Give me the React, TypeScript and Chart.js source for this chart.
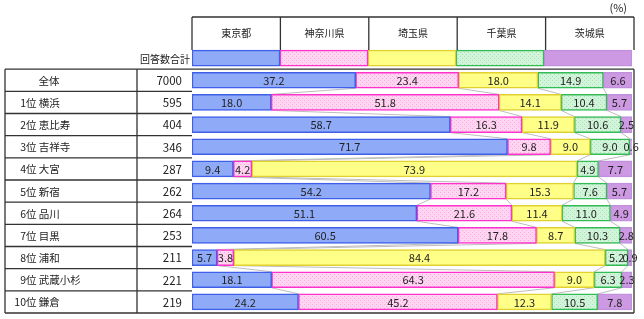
import React, { useEffect, useRef } from "react";
import { Chart, registerables } from "chart.js";

Chart.register(...registerables);

const prefectures = ["東京都", "神奈川県", "埼玉県", "千葉県", "茨城県"];
const rowLabels = ["全体", "1位 横浜", "2位 恵比寿", "3位 吉祥寺", "4位 大宮", "5位 新宿", "6位 品川", "7位 目黒", "8位 浦和", "9位 武蔵小杉", "10位 鎌倉"];
const counts = [7000, 595, 404, 346, 287, 262, 264, 253, 211, 221, 219];
const legendRow = [20, 20, 20, 20, 20];
const tokyo = [37.2, 18.0, 58.7, 71.7, 9.4, 54.2, 51.1, 60.5, 5.7, 18.1, 24.2];
const kanagawa = [23.4, 51.8, 16.3, 9.8, 4.2, 17.2, 21.6, 17.8, 3.8, 64.3, 45.2];
const saitama = [18.0, 14.1, 11.9, 9.0, 73.9, 15.3, 11.4, 8.7, 84.4, 9.0, 12.3];
const chiba = [14.9, 10.4, 10.6, 9.0, 4.9, 7.6, 11.0, 10.3, 5.2, 6.3, 10.5];
const ibaraki = [6.6, 5.7, 2.5, 0.6, 7.7, 5.7, 4.9, 2.8, 0.9, 2.3, 7.8];
const unitLabel = "(%)";
const countHeader = "回答数合計";

const FONT = '"Noto Sans CJK JP", "Noto Sans", sans-serif';

function dotPattern(bg: string, dot: string): CanvasPattern | string {
  const c = document.createElement("canvas");
  c.width = 4;
  c.height = 4;
  const g = c.getContext("2d");
  if (!g) return bg;
  g.fillStyle = bg;
  g.fillRect(0, 0, 4, 4);
  g.fillStyle = dot;
  g.fillRect(0, 0, 1, 1);
  g.fillRect(2, 2, 1, 1);
  return g.createPattern(c, "repeat") || bg;
}

export default function App() {
  const ref = useRef<HTMLCanvasElement | null>(null);

  useEffect(() => {
    document.body.style.margin = "0";
    const canvas = ref.current;
    if (!canvas) return;

    const series = [tokyo, kanagawa, saitama, chiba, ibaraki];
    const fills: (string | CanvasPattern)[] = [
      "#8FAAF6",
      dotPattern("#FFD6F2", "#FFA8E2"),
      "#FFFF88",
      dotPattern("#D2F4DA", "#A6E4B4"),
      "#CC99E2",
    ];
    const borders = ["#3F5FE8", "#FF33CC", "#E0D030", "#33BB55", "#C090DD"];
    const labels = ["", ...rowLabels];

    const datasets = series.map((vals, k) => ({
      label: prefectures[k],
      data: [legendRow[k], ...vals],
      backgroundColor: fills[k],
      borderColor: borders[k],
      borderWidth: 1.5,
      borderSkipped: false,
      barThickness: 16,
    }));

    const tablePlugin = {
      id: "tablePlugin",
      beforeDatasetsDraw(chart: any) {
        const ctx = chart.ctx;
        const xs = chart.scales.x;
        const ys = chart.scales.y;
        ctx.save();
        ctx.strokeStyle = "#BDBDBD";
        ctx.lineWidth = 1;
        for (let i = 0; i < rowLabels.length - 1; i++) {
          let c1 = 0;
          let c2 = 0;
          const yb = ys.getPixelForValue(i + 1) + 8;
          const yt = ys.getPixelForValue(i + 2) - 8;
          for (let k = 0; k < series.length - 1; k++) {
            c1 += series[k][i];
            c2 += series[k][i + 1];
            ctx.beginPath();
            ctx.moveTo(xs.getPixelForValue(c1), yb);
            ctx.lineTo(xs.getPixelForValue(c2), yt);
            ctx.stroke();
          }
        }
        ctx.restore();
      },
      afterDraw(chart: any) {
        const ctx = chart.ctx;
        const xs = chart.scales.x;
        const ys = chart.scales.y;
        const area = chart.chartArea;
        const step = ys.getPixelForValue(1) - ys.getPixelForValue(0);
        const left = 5;
        const col = 137;
        const barL = area.left;
        const right = area.right + 2;
        const tableTop = ys.getPixelForValue(1) - step / 2;
        const tableBot = ys.getPixelForValue(rowLabels.length) + step / 2;

        ctx.save();
        // bar value labels
        ctx.fillStyle = "#222";
        ctx.font = `11px ${FONT}`;
        ctx.textAlign = "center";
        ctx.textBaseline = "middle";
        for (let i = 0; i < rowLabels.length; i++) {
          let cum = 0;
          const y = ys.getPixelForValue(i + 1);
          for (let k = 0; k < series.length; k++) {
            const v = series[k][i];
            const x = xs.getPixelForValue(cum + v / 2);
            cum += v;
            ctx.fillText(v.toFixed(1), x, y + 0.5);
          }
        }

        // table lines
        ctx.strokeStyle = "#333";
        ctx.lineWidth = 1.3;
        ctx.beginPath();
        ctx.moveTo(left, tableTop);
        ctx.lineTo(right, tableTop);
        ctx.moveTo(left, tableBot);
        ctx.lineTo(right, tableBot);
        ctx.moveTo(left, tableTop);
        ctx.lineTo(left, tableBot);
        ctx.moveTo(col, tableTop);
        ctx.lineTo(col, tableBot);
        ctx.moveTo(right, tableTop);
        ctx.lineTo(right, tableBot);
        for (let i = 1; i < rowLabels.length; i++) {
          const y = ys.getPixelForValue(i) + step / 2;
          ctx.moveTo(left, y);
          ctx.lineTo(barL, y);
        }
        ctx.stroke();

        // header boxes
        const hTop = 17;
        const hBot = ys.getPixelForValue(0) - 8;
        const w = (right - barL) / prefectures.length;
        ctx.beginPath();
        ctx.moveTo(barL, hTop);
        ctx.lineTo(right, hTop);
        for (let k = 0; k <= prefectures.length; k++) {
          ctx.moveTo(barL + k * w, hTop);
          ctx.lineTo(barL + k * w, hBot);
        }
        ctx.stroke();

        ctx.fillStyle = "#222";
        ctx.font = `10px ${FONT}`;
        ctx.textAlign = "center";
        ctx.textBaseline = "middle";
        for (let k = 0; k < prefectures.length; k++) {
          ctx.fillText(prefectures[k], barL + (k + 0.5) * w, (hTop + hBot) / 2);
        }
        ctx.font = `10px ${FONT}`;
        ctx.textAlign = "right";
        ctx.fillText(countHeader, barL - 2, ys.getPixelForValue(0) + 1);
        ctx.font = `11px ${FONT}`;
        ctx.fillText(unitLabel, 627, 8);

        // row labels and counts
        for (let i = 0; i < rowLabels.length; i++) {
          const y = ys.getPixelForValue(i + 1) + 0.5;
          ctx.font = `10.5px ${FONT}`;
          const lab = rowLabels[i];
          if (i === 0) {
            ctx.textAlign = "center";
            ctx.fillText(lab, 49, y);
          } else {
            const idx = lab.indexOf("位");
            const num = lab.slice(0, idx);
            const rest = lab.slice(idx);
            ctx.textAlign = "right";
            ctx.fillText(num, 26, y);
            ctx.textAlign = "left";
            ctx.fillText(rest, 26, y);
          }
          ctx.font = `11.5px ${FONT}`;
          ctx.textAlign = "right";
          ctx.fillText(String(counts[i]), 182, y);
        }
        ctx.restore();
      },
    };

    const chart = new Chart(canvas, {
      type: "bar",
      data: { labels, datasets },
      options: {
        indexAxis: "y",
        responsive: false,
        animation: false,
        devicePixelRatio: 1,
        layout: { padding: { left: 192, right: 12, top: 47, bottom: 6 } },
        plugins: { legend: { display: false }, tooltip: { enabled: false } },
        scales: {
          x: { stacked: true, min: 0, max: 100, display: false },
          y: { stacked: true, display: false },
        },
      },
      plugins: [tablePlugin],
    } as any);

    return () => chart.destroy();
  }, []);

  return (
    <div style={{ position: "absolute", left: 0, top: 0, width: 644, height: 319, background: "#fff" }}>
      <canvas ref={ref} width={644} height={319} />
    </div>
  );
}
